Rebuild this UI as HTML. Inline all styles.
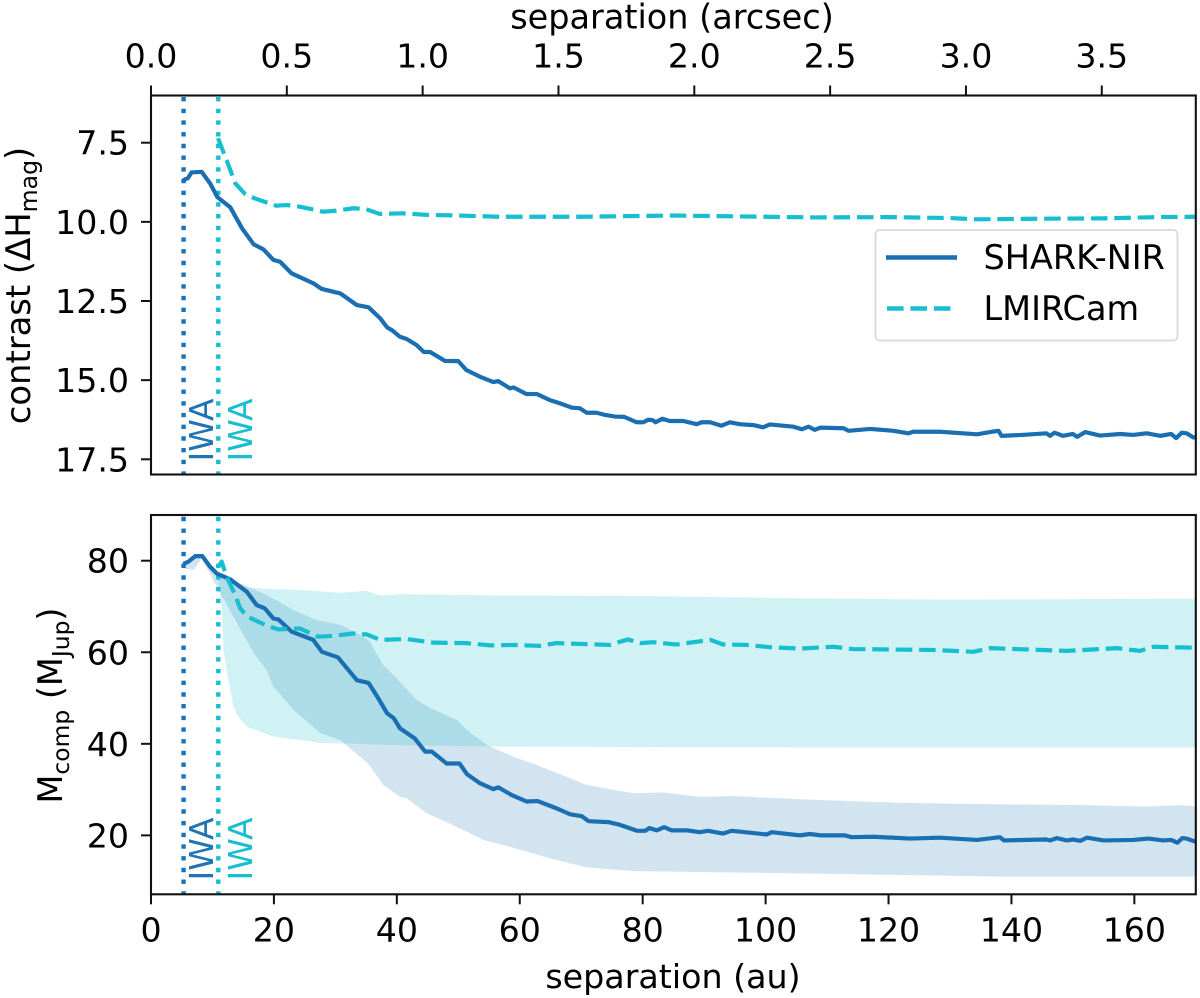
<!DOCTYPE html>
<html lang="en">
<head>
<meta charset="utf-8">
<title>SHARK-NIR vs LMIRCam contrast and mass limits</title>
<style>
  html, body { margin: 0; padding: 0; background: #fff; }
  svg { display: block; }
  text { font-family: "DejaVu Sans", "Liberation Sans", sans-serif; fill: #000; }
</style>
</head>
<body>
<svg id="chart" xmlns="http://www.w3.org/2000/svg" width="1200" height="998" viewBox="0 0 1200 998">
  <defs>
    <clipPath id="clip-top"><rect x="151" y="95.5" width="1044.8" height="379"></rect></clipPath>
    <clipPath id="clip-bottom"><rect x="151" y="515" width="1044.8" height="379.3"></rect></clipPath>
  </defs>
  <g id="top-marks" clip-path="url(#clip-top)"></g>
  <g id="bottom-marks" clip-path="url(#clip-bottom)"></g>
  <g id="axes"></g>

  <text x="672" y="28.5" font-size="33.5" text-anchor="middle">separation (arcsec)</text>
  <text x="673" y="988" font-size="33.3" text-anchor="middle">separation (au)</text>
  <text transform="translate(30,285.5) rotate(-90)" font-size="33.8" text-anchor="middle">contrast (ΔH<tspan font-size="23.6" dy="7">mag</tspan><tspan dy="-7">)</tspan></text>
  <text transform="translate(62,705.5) rotate(-90)" font-size="33.5" text-anchor="middle">M<tspan font-size="23.4" dy="7">comp</tspan><tspan dy="-7"> (M</tspan><tspan font-size="23.4" dy="7">Jup</tspan><tspan dy="-7">)</tspan></text>

  <text transform="translate(213,461.5) rotate(-90)" font-size="33" style="fill:#2173b3">IWA</text>
  <text transform="translate(252,461.5) rotate(-90)" font-size="33" style="fill:#17becf">IWA</text>
  <text transform="translate(213,880.5) rotate(-90)" font-size="33" style="fill:#2173b3">IWA</text>
  <text transform="translate(252,880.5) rotate(-90)" font-size="33" style="fill:#17becf">IWA</text>

  <g>
    <rect x="875.5" y="230" width="302" height="110.5" rx="4" ry="4" fill="#fff" fill-opacity="0.9" stroke="#d9d9d9" stroke-width="1.8"></rect>
    <line x1="886" y1="257.5" x2="957" y2="257.5" stroke="#1a6fb3" stroke-width="4.4"></line>
    <line x1="887" y1="308.5" x2="957" y2="308.5" stroke="#17becf" stroke-width="4.4" stroke-dasharray="16.6 6.8"></line>
    <text x="983.5" y="269" font-size="33.5">SHARK-NIR</text>
    <text x="983.5" y="320" font-size="33.5">LMIRCam</text>
  </g>
</svg>

<script>
// ---- data ----
const xTicksAu = [0, 20, 40, 60, 80, 100, 120, 140, 160];
const xTicksArcsec = [0, 0.5, 1, 1.5, 2, 2.5, 3, 3.5];
const xTickLabelsArcsec = ['0.0', '0.5', '1.0', '1.5', '2.0', '2.5', '3.0', '3.5'];
const yTicksContrast = [7.5, 10, 12.5, 15, 17.5];
const yTickLabelsContrast = ['7.5', '10.0', '12.5', '15.0', '17.5'];
const yTicksMass = [20, 40, 60, 80];
const iwaShark = 5.3;
const iwaLmircam = 10.95;

const sharkContrastAu = [5.26, 6.0, 6.6, 8.25, 9.6, 10.8, 12.9, 14.8, 16.7, 18.3, 19.9, 21, 22.9, 26.4, 27.8, 30.8, 33.5, 35.4, 37.3, 38.4, 39.2, 40.5, 41.6, 43.2, 44.4, 45.4, 47.8, 50, 51.3,
  53.5, 55.7, 56.5, 58.4, 59, 61.1, 62.8, 64.9, 66.5, 68.5, 69.8, 70.9, 72.5, 73.9, 75.5, 77, 79, 80.1, 80.9, 81.6, 82.1, 83.2, 84.4, 86.6, 88.8, 89.6, 91, 92.8, 94.2, 95.8, 98, 99.6, 100.7, 104.5, 105.9, 107, 108, 108.9,
  112.7, 113.5, 117, 120.8, 123.2, 124, 128.4, 134.4, 136.8, 137.9, 138.4, 141.7, 145.7, 146.3, 147, 148.4, 150, 150.7, 152, 154.4, 157.7, 159.8, 162, 164.2, 166, 166.8, 167.7, 168.5, 169.6, 170];
const sharkContrastMag = [8.68, 8.62, 8.44, 8.42, 8.78, 9.22, 9.54, 10.2, 10.71, 10.87, 11.2, 11.26, 11.63, 11.94, 12.12, 12.26, 12.63, 12.7, 13.05, 13.33, 13.42, 13.63, 13.7, 13.89, 14.11, 14.11, 14.39, 14.4, 14.68,
  14.89, 15.06, 15.03, 15.26, 15.23, 15.44, 15.44, 15.63, 15.73, 15.87, 15.89, 16.03, 16.03, 16.1, 16.15, 16.16, 16.33, 16.33, 16.25, 16.26, 16.33, 16.22, 16.29, 16.29, 16.39, 16.33, 16.33, 16.44, 16.33, 16.39, 16.42, 16.49, 16.4, 16.47, 16.55, 16.47, 16.57, 16.5,
  16.52, 16.6, 16.54, 16.6, 16.68, 16.63, 16.63, 16.71, 16.63, 16.6, 16.76, 16.73, 16.68, 16.76, 16.66, 16.76, 16.7, 16.79, 16.64, 16.75, 16.7, 16.73, 16.68, 16.76, 16.7, 16.83, 16.66, 16.68, 16.81, 16.8];

const lmirContrastAu = [10.9, 12.3, 13.7, 15.3, 16.9, 20.4, 22.1, 24.2, 28, 30, 32.9, 35, 37.2, 41, 44.9, 50, 56.8, 70, 85, 100, 108, 120, 130, 134.4, 145, 155, 164, 170];
const lmirContrastMag = [7.36, 8.05, 8.78, 9.12, 9.26, 9.49, 9.47, 9.52, 9.68, 9.65, 9.57, 9.6, 9.75, 9.73, 9.78, 9.8, 9.84, 9.84, 9.8, 9.84, 9.86, 9.85, 9.88, 9.92, 9.9, 9.89, 9.85, 9.84];

const sharkMassAu = [5.26, 6.1, 7.2, 8.35, 9.6, 10.7, 12.9, 15.6, 17.2, 18.5, 19.9, 20.7, 22.9, 26.4, 27.8, 30.4, 33.5, 35.4, 37, 38.4, 39.5, 40.5, 42.9, 44.6, 45.7, 48.1, 50.2, 51.4, 53.5, 55.7, 56.5, 58.7, 61.1, 62.9, 66, 68.2, 70.1, 71.2, 74.4, 76.3, 79.1, 80.4, 81.1, 82.3, 83.5, 84.7, 87.2, 89.3, 90.6, 93.1, 94.5, 100.2, 101, 105.6, 107.2, 109, 112.9, 114, 117.5, 123.5, 128.4, 134.4, 138.1, 138.8, 145.7, 146.3, 147.4, 149, 150, 151.2, 152.3, 155, 159.8, 162.3, 164.7, 166, 167, 167.8, 168.5, 170];
const sharkMass = [79.3, 79.8, 81, 81, 78.7, 77.2, 75.9, 73.2, 70.3, 69.6, 67.4, 67.2, 64.5, 62.7, 60.1, 58.9, 53.9, 53.3, 49.9, 46.7, 45.6, 43.4, 41.2, 38.3, 38.3, 35.7, 35.7, 33.4, 31.4, 30.1, 30.5, 28.8, 27.4, 27.5, 25.9, 24.6, 24.2, 23.1, 22.9, 22.3, 21, 21, 21.6, 21.1, 21.8, 21.1, 21.1, 20.7, 21, 20.4, 21, 20.2, 20.7, 20, 20.3, 20, 20, 19.6, 19.7, 19.3, 19.5, 19, 19.6, 18.9, 19.1, 18.9, 19.4, 18.9, 19.1, 18.8, 19.5, 18.9, 19, 19.3, 18.9, 19, 18.4, 19.4, 19.3, 18.6];

const lmirMassSepAu = [10.9, 11.5, 12.3, 13.7, 14.5, 15.6, 16.9, 19.1, 20.7, 24.2, 27.2, 29.9, 32.9, 35.1, 37.3, 41.6, 45.9, 51.3, 55.2, 58.9, 63.3, 66, 74.7, 76.3, 77.6, 79.6, 81.7, 85.5, 89.3, 91, 93.1, 96.9, 100.7, 105.6, 111, 114.2, 127.3, 133.8, 136.5, 149, 157.1, 160.9, 163.1, 170];
const lmirMass = [78.6, 79.8, 76.5, 72.5, 69.6, 67.9, 67, 65.7, 65, 65.2, 63.4, 63.6, 64.1, 63.9, 62.7, 62.9, 62.1, 62, 61.5, 61.6, 61.4, 62, 61.6, 62.3, 62.8, 62, 62.2, 61.7, 62.4, 62.7, 61.7, 61.6, 61.1, 60.8, 61.2, 60.7, 60.5, 60.1, 60.9, 60.3, 60.9, 60.3, 61.2, 61];

const sharkUpperAu = [5.26, 7.2, 8.25, 10.95, 12.9, 15.6, 18, 20.4, 23.2, 27, 30.8, 34.6, 35.6, 37.8, 39.7, 43.2, 45.4, 49.8, 51.4, 54.7, 55.2, 58.9, 62.7, 70.9, 78.5, 83.3, 89.3, 94.7, 105.6, 121.9, 138, 151.7, 162, 167.5, 170];
const sharkUpper = [79.8, 81, 81, 77, 76, 74.3, 73, 71.4, 69.2, 67, 66, 63.4, 62.3, 57.2, 54.7, 49.6, 47.8, 45.2, 43, 39.7, 39.4, 37.2, 35.4, 31, 29.2, 29.4, 28.4, 28.6, 27.9, 27.1, 26.8, 26.6, 26.3, 26.6, 26.3];
const sharkLowerAu = [5.26, 7, 8.25, 10.7, 13.4, 16.7, 18.8, 19.9, 23.2, 27.5, 30.8, 35.3, 37.8, 40.5, 41.6, 44.9, 48.6, 51.4, 54.1, 58.4, 64.9, 70.9, 78.5, 94.7, 105.6, 138, 170];
const sharkLower = [78.3, 78, 80.5, 74.3, 67.8, 59.8, 56.1, 52.5, 47.4, 42.4, 40.8, 35.7, 31, 28.4, 28.1, 24.8, 22.6, 20.8, 19, 17.5, 15, 13, 12.2, 11.9, 11.7, 11, 11];

const lmirUpperAu = [10.9, 12.9, 15.9, 19.4, 24.2, 30.8, 35.1, 37.3, 40.5, 56.8, 80, 105, 130, 170];
const lmirUpper = [77, 75.8, 74.2, 73.8, 73.6, 73, 73.4, 72.4, 72.7, 72.4, 72.3, 71.8, 71.5, 71.7];
const lmirLowerAu = [10.9, 11.2, 11.5, 11.8, 12.6, 13.4, 14.2, 15.6, 19.9, 27.5, 40.5, 56.8, 80, 105, 130, 170];
const lmirLower = [77, 73, 70, 60.5, 53.9, 48.1, 45.9, 43.7, 41.6, 40.2, 39.7, 39.4, 39.3, 39.2, 39.2, 39.2];

// ---- axis functions ----
const AU_PER_ARCSEC = 44.2;
function xAu(au) { return 151 + au * 6.146; }
function xArcsec(a) { return xAu(a * AU_PER_ARCSEC); }
function yContrast(m) { return 142.7 + (m - 7.5) * 31.66; }
function yMass(m) { return 560.7 + (80 - m) * 4.578; }

const SVG_NS = 'http://www.w3.org/2000/svg';
function mk(tag, attrs, parent) {
  const el = document.createElementNS(SVG_NS, tag);
  for (const k in attrs) { el.setAttribute(k, attrs[k]); }
  parent.appendChild(el);
  return el;
}
function linePath(xs, ys, yFn) {
  return xs.map((x, i) => (i ? 'L' : 'M') + xAu(x).toFixed(2) + ' ' + yFn(ys[i]).toFixed(2)).join(' ');
}
function bandPath(ux, uy, lx, ly, yFn) {
  const up = ux.map((x, i) => xAu(x).toFixed(2) + ' ' + yFn(uy[i]).toFixed(2));
  const lo = lx.map((x, i) => xAu(x).toFixed(2) + ' ' + yFn(ly[i]).toFixed(2)).reverse();
  return 'M' + up.concat(lo).join(' L') + ' Z';
}

const SHARK = '#1a6fb3';
const LMIR = '#17becf';
const topG = document.getElementById('top-marks');
const botG = document.getElementById('bottom-marks');
const axesG = document.getElementById('axes');

// ---- bottom panel bands ----
const sharkBand = mk('path', { d: bandPath(sharkUpperAu, sharkUpper, sharkLowerAu, sharkLower, yMass), fill: '#1f77b4', 'fill-opacity': 0.2 }, botG);


const lmirBand = mk('path', { d: bandPath(lmirUpperAu, lmirUpper, lmirLowerAu, lmirLower, yMass), fill: '#17becf', 'fill-opacity': 0.2 }, botG);



// ---- IWA dotted lines ----
const dotted = { fill: 'none', 'stroke-width': 4.4, 'stroke-dasharray': '4.4 7.3' };
const iwa1 = mk('line', Object.assign({ x1: xAu(iwaShark), x2: xAu(iwaShark), y1: 97, y2: 475, stroke: '#1a73b8' }, dotted), topG);


const iwa2 = mk('line', Object.assign({ x1: xAu(iwaLmircam), x2: xAu(iwaLmircam), y1: 97, y2: 475, stroke: LMIR }, dotted), topG);


const iwa3 = mk('line', Object.assign({ x1: xAu(iwaShark), x2: xAu(iwaShark), y1: 516.8, y2: 895, stroke: '#1a73b8' }, dotted), botG);


const iwa4 = mk('line', Object.assign({ x1: xAu(iwaLmircam), x2: xAu(iwaLmircam), y1: 516.8, y2: 895, stroke: LMIR }, dotted), botG);



// ---- series lines ----
const solid = { fill: 'none', 'stroke-width': 4.2, 'stroke-linejoin': 'round' };
const dashed = { fill: 'none', 'stroke-width': 4.2, 'stroke-linejoin': 'round', 'stroke-dasharray': '16.6 6.8' };
const s1 = mk('path', Object.assign({ d: linePath(lmirContrastAu, lmirContrastMag, yContrast), stroke: LMIR }, dashed), topG);


const s2 = mk('path', Object.assign({ d: linePath(sharkContrastAu, sharkContrastMag, yContrast), stroke: SHARK }, solid), topG);


const s3 = mk('path', Object.assign({ d: linePath(sharkMassAu, sharkMass, yMass), stroke: SHARK }, solid), botG);


const s4 = mk('path', Object.assign({ d: linePath(lmirMassSepAu, lmirMass, yMass), stroke: LMIR }, dashed), botG);



// ---- frames ----
const frameAttrs = { fill: 'none', stroke: '#111', 'stroke-width': 2.1 };
const frameTop = mk('rect', Object.assign({ x: 151, y: 95.5, width: 1044.8, height: 379 }, frameAttrs), axesG);


const frameBot = mk('rect', Object.assign({ x: 151, y: 515, width: 1044.8, height: 379.3 }, frameAttrs), axesG);



// ---- ticks ----
const tickStyle = { stroke: '#111', 'stroke-width': 2 };
const FS = 33.2;
xTicksArcsec.forEach((v, i) => {
  const x = xArcsec(v);
  const t = mk('line', Object.assign({ x1: x, x2: x, y1: 95.5, y2: 85.5 }, tickStyle), axesG);
  
  
  const l = mk('text', { x: x, y: 67.5, 'font-size': FS, 'text-anchor': 'middle' }, axesG);
  l.textContent = xTickLabelsArcsec[i];
  
  
});
xTicksAu.forEach((v) => {
  const x = xAu(v);
  const t = mk('line', Object.assign({ x1: x, x2: x, y1: 894.3, y2: 904.3 }, tickStyle), axesG);
  
  
  const l = mk('text', { x: x, y: 941.5, 'font-size': FS, 'text-anchor': 'middle' }, axesG);
  l.textContent = String(v);
  
  
});
yTicksContrast.forEach((v, i) => {
  const y = yContrast(v);
  const t = mk('line', Object.assign({ x1: 141, x2: 151, y1: y, y2: y }, tickStyle), axesG);
  
  
  const l = mk('text', { x: 129, y: y + 12, 'font-size': FS, 'text-anchor': 'end' }, axesG);
  l.textContent = yTickLabelsContrast[i];
  
  
});
yTicksMass.forEach((v) => {
  const y = yMass(v);
  const t = mk('line', Object.assign({ x1: 141, x2: 151, y1: y, y2: y }, tickStyle), axesG);
  
  
  const l = mk('text', { x: 129, y: y + 12, 'font-size': FS, 'text-anchor': 'end' }, axesG);
  l.textContent = String(v);
  
  
});
</script>
</body>
</html>
